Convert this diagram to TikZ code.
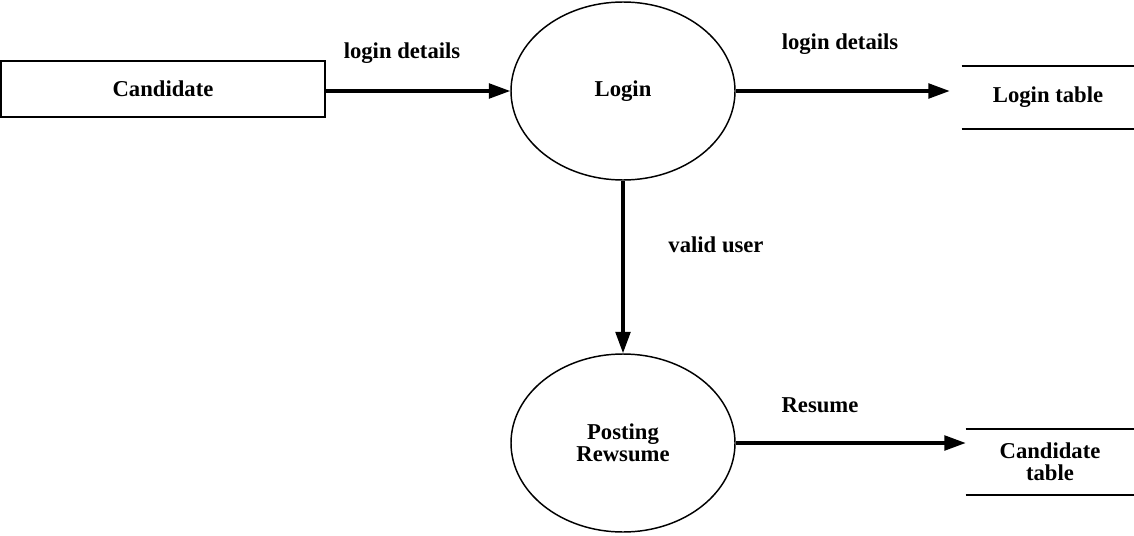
\documentclass[tikz,border=0pt]{standalone}
\usepackage{fontspec}
\setmainfont{Liberation Serif}
\usetikzlibrary{shapes.geometric,arrows.meta}
\tikzset{
  proc/.style={ellipse, draw, line width=1.1pt, minimum width=168pt, minimum height=133.5pt, inner sep=0pt, align=center},
  ent/.style={rectangle, draw, line width=1.1pt, minimum width=243pt, minimum height=42pt},
  store/.style={inner sep=0pt, align=center},
  storeline/.style={line width=1.4pt},
  flow/.style={line width=2.4pt, -{Triangle[length=16pt,width=11pt]}},
  lbl/.style={inner sep=0pt}
}
\begin{document}
\begin{tikzpicture}[x=0.75pt,y=0.75pt,yscale=-1,xscale=1,font=\fontsize{17}{16.5}\selectfont\bfseries]
\useasboundingbox (0,0) rectangle (1134,535);
% entities and processes
\node[ent] (cand) at (163,89) {Candidate};
\node[proc] (login) at (623,91) {Login};
\node[proc] (post) at (623,443) {Posting\\Rewsume};
% data stores
\node[store, minimum width=129pt, minimum height=47.25pt] (lt) at (1048,97.5) {Login table};
\node[store, minimum width=126pt, minimum height=49.5pt] (ct) at (1050,462) {Candidate\\table};
\draw[storeline] (lt.north west) -- (lt.north east) (lt.south west) -- (lt.south east);
\draw[storeline] (ct.north west) -- (ct.north east) (ct.south west) -- (ct.south east);
% flows
\draw[flow] (cand.east |- login.west) -- (login.west);
\draw[flow, shorten >=9pt] (login.east) -- (login.east -| lt.west);
\draw[flow] (login.south) -- (post.north);
\draw[flow] (post.east) -- (post.east -| ct.west);
% flow labels
\node[lbl] (l1) at (402,53) {login details};
\node[lbl] (l2) at (840,44) {login details};
\node[lbl] (l3) at (716,245) {valid user};
\node[lbl] (l4) at (820,405) {Resume};
\end{tikzpicture}
\end{document}
